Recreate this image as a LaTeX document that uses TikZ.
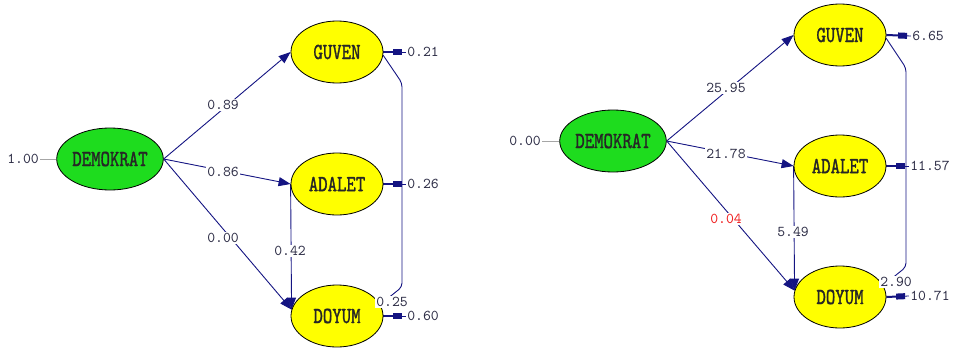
\documentclass[tikz,border=0pt]{standalone}
\usepackage{fontspec}
\newfontfamily\nodefont{lmmono10-regular.otf}[FakeStretch=0.78,FakeBold=1.2]
\newfontfamily\labfont{lmmono10-regular.otf}
\usetikzlibrary{shapes.geometric,arrows.meta}
\definecolor{navy}{RGB}{20,20,130}
\definecolor{labcol}{RGB}{45,45,70}
\definecolor{grn}{RGB}{30,220,30}
\definecolor{ylw}{RGB}{255,255,0}
\definecolor{redlab}{RGB}{240,30,30}
\pgfdeclarelayer{bg}
\pgfsetlayers{bg,main}
\tikzset{
  lv/.style={ellipse, draw=black, line width=0.8pt, minimum width=92pt, minimum height=62pt, inner sep=0pt,
    font=\nodefont\fontsize{23}{23}\selectfont, text=black!85},
  lab/.style={font=\labfont\fontsize{15}{15}\selectfont, text=labcol, fill=white, inner sep=1pt},
  path/.style={draw=navy, line width=0.9pt, -{Triangle[length=12pt,width=9pt]}},
  err/.style={draw=navy, line width=2pt, {Rectangle[length=9pt,width=6pt]}-, shorten <=4pt},
  errtick/.style={draw=navy, line width=0.8pt},
  cov/.style={draw=navy, line width=0.9pt, rounded corners=4pt},
  fixl/.style={draw=black!35, line width=0.8pt}
}
\begin{document}
\begin{tikzpicture}[x=1pt,y=-1pt]
\useasboundingbox (0,0) rectangle (953,351);
% ---- left diagram
\node[lv, fill=grn] (demoL) at (110,159) {DEMOKRAT};
\node[lv, fill=ylw] (guvL) at (337,52) {GUVEN};
\node[lv, fill=ylw] (adaL) at (337,184) {ADALET};
\node[lv, fill=ylw] (doyL) at (337,316) {DOYUM};
\node[lab] (vL) at (23,159) {1.00};
\node[lab] (l089) at (223,105) {0.89};
\node[lab] (l086) at (223,172) {0.86};
\node[lab] (l000) at (223,238) {0.00};
\node[lab] (l042) at (290,251) {0.42};
\node[lab] (l021) at (423,52) {0.21};
\node[lab] (l026) at (423,184) {0.26};
\node[lab] (l060) at (423,316) {0.60};
\node[lab] (l025) at (392,302) {0.25};
\coordinate (cL1) at (402,83);
\coordinate (cL2) at (402,287);
% ---- right diagram
\node[lv, fill=grn] (demoR) at (613,141) {DEMOKRAT};
\node[lv, fill=ylw] (guvR) at (840,35) {GUVEN};
\node[lv, fill=ylw] (adaR) at (840,166) {ADALET};
\node[lv, fill=ylw] (doyR) at (840,297) {DOYUM};
\node[lab] (vR) at (525,141) {0.00};
\node[lab] (r2595) at (726,88) {25.95};
\node[lab] (r2178) at (726,154) {21.78};
\node[lab, text=redlab] (r004) at (726,219) {0.04};
\node[lab] (r549) at (793,232) {5.49};
\node[lab] (r665) at (928,36) {6.65};
\node[lab] (r1157) at (930,166) {11.57};
\node[lab] (r1071) at (930,296) {10.71};
\node[lab] (r290) at (896,282) {2.90};
\coordinate (cR1) at (906,68);
\coordinate (cR2) at (906,267);
\begin{pgfonlayer}{bg}
  % left
  \draw[fixl] (vL.east) -- (demoL.west);
  \draw[path] (demoL.east) -- (guvL.west);
  \draw[path] (demoL.east) -- (adaL.west);
  \draw[path] (demoL.east) -- (doyL.172);
  \draw[path] (adaL.west) -- (doyL.172);
  \draw[errtick] (l021.west) -- (guvL.east);
  \draw[err] (l021.west) -- (guvL.east);
  \draw[errtick] (l026.west) -- (adaL.east);
  \draw[err] (l026.west) -- (adaL.east);
  \draw[errtick] (l060.west) -- (doyL.east);
  \draw[err] (l060.west) -- (doyL.east);
  \draw[cov] (guvL.-4) -- (cL1) -- (cL2) -- (doyL.15);
  % right
  \draw[fixl] (vR.east) -- (demoR.west);
  \draw[path] (demoR.east) -- (guvR.west);
  \draw[path] (demoR.east) -- (adaR.west);
  \draw[path] (demoR.east) -- (doyR.172);
  \draw[path] (adaR.west) -- (doyR.172);
  \draw[errtick] (r665.west) -- (guvR.east);
  \draw[err] (r665.west) -- (guvR.east);
  \draw[errtick] (r1157.west) -- (adaR.east);
  \draw[err] (r1157.west) -- (adaR.east);
  \draw[errtick] (r1071.west) -- (doyR.east);
  \draw[err] (r1071.west) -- (doyR.east);
  \draw[cov] (guvR.-4) -- (cR1) -- (cR2) -- (doyR.15);
\end{pgfonlayer}
\end{tikzpicture}
\end{document}
